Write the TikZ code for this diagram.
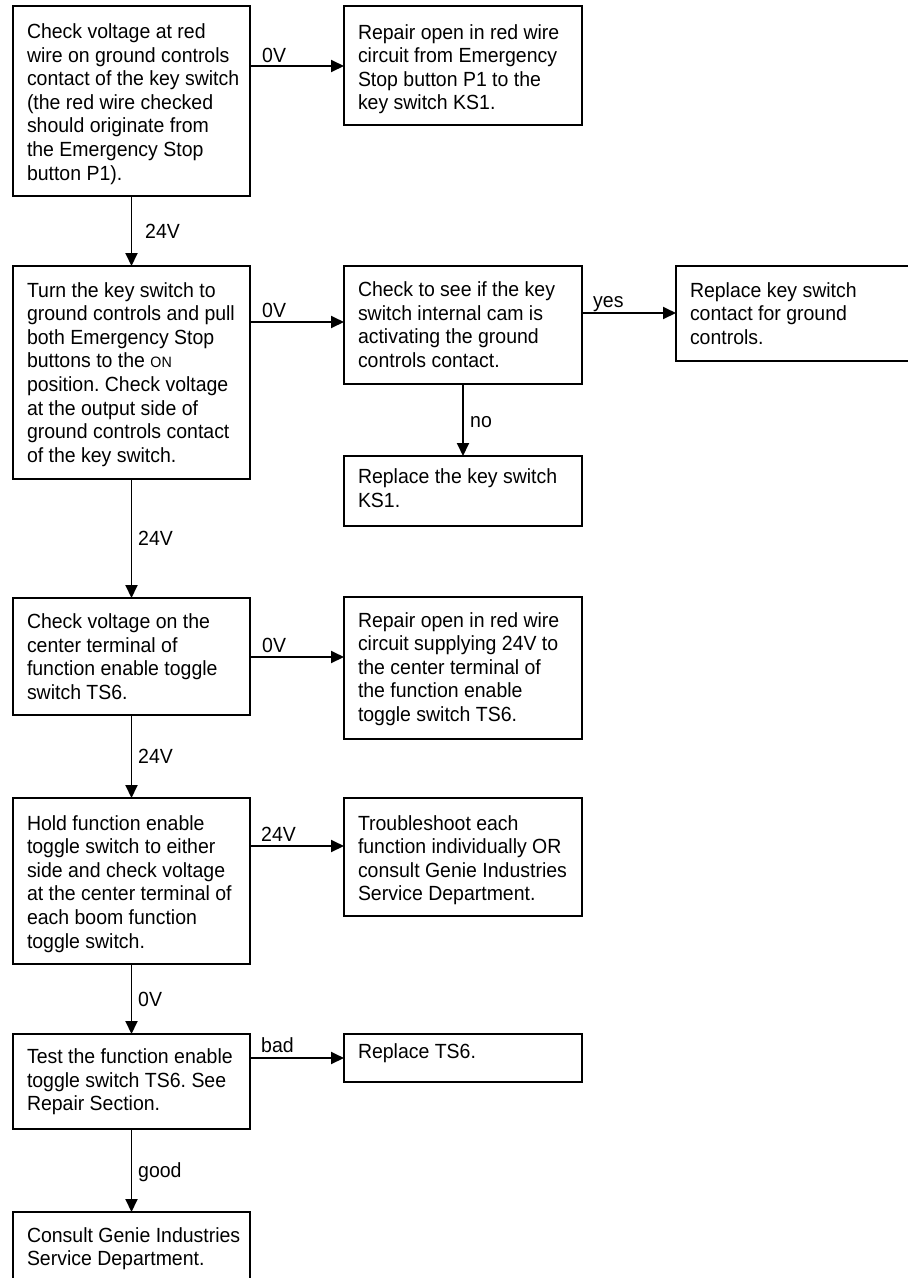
\documentclass[tikz,border=0pt]{standalone}
\usepackage{fontspec}
\setmainfont[FakeStretch=0.95]{Liberation Sans}
\usetikzlibrary{arrows.meta}
\frenchspacing
\tikzset{
  fbx/.style={draw, line width=1.9pt, inner sep=0pt, outer sep=0pt, anchor=north west},
  arr/.style={line width=1.9pt, -{Triangle[length=13pt,width=12pt]}},
  lbl/.style={inner sep=0pt, anchor=base west},
}
\newcommand{\flowbox}[7]{%
  \node[fbx] (#1) at (#2,#3) {\parbox[c][\dimexpr #5pt-#3pt\relax][t]{\dimexpr #4pt-#2pt\relax}{\vspace*{\dimexpr #6pt-16.52pt\relax}\hspace*{14pt}\begin{tabular}[t]{@{}l@{}}#7\end{tabular}}};}
\begin{document}
\begin{tikzpicture}[x=1pt,y=-1pt,font=\fontsize{20.5}{23.6}\selectfont]
\useasboundingbox (0,0) rectangle (908,1278);
\clip (0,0) rectangle (908,1278);
% left column
\flowbox{b1}{13}{6}{250}{196}{32.5}{Check voltage at red\\wire on ground controls\\contact of the key switch\\(the red wire checked\\should originate from\\the Emergency Stop\\button P1).}
\flowbox{b2}{13}{266}{250}{479}{31}{Turn the key switch to\\ground controls and pull\\both Emergency Stop\\buttons to the {\fontsize{15}{16}\selectfont ON}\\position. Check voltage\\at the output side of\\ground controls contact\\of the key switch.}
\flowbox{b3}{13}{598}{250}{715}{30.5}{Check voltage on the\\center terminal of\\function enable toggle\\switch TS6.}
\flowbox{b4}{13}{798}{250}{964}{32}{Hold function enable\\toggle switch to either\\side and check voltage\\at the center terminal of\\each boom function\\toggle switch.}
\flowbox{b5}{13}{1034}{250}{1129}{29.5}{Test the function enable\\toggle switch TS6. See\\Repair Section.}
\flowbox{b6}{13}{1212}{250}{1295}{30}{Consult Genie Industries\\Service Department.}
% middle column
\flowbox{m1}{344}{6}{582}{125}{33}{Repair open in red wire\\circuit from Emergency\\Stop button P1 to the\\key switch KS1.}
\flowbox{m2}{344}{266}{582}{384}{30.5}{Check to see if the key\\switch internal cam is\\activating the ground\\controls contact.}
\flowbox{m3}{344}{456}{582}{526}{27.5}{Replace the key switch\\KS1.}
\flowbox{m4}{344}{597}{582}{739}{30}{Repair open in red wire\\circuit supplying 24V to\\the center terminal of\\the function enable\\toggle switch TS6.}
\flowbox{m5}{344}{798}{582}{916}{32}{Troubleshoot each\\function individually OR\\consult Genie Industries\\Service Department.}
\flowbox{m6}{344}{1034}{582}{1082}{24.5}{Replace TS6.}
% right column
\flowbox{r1}{676}{266}{916}{361}{31}{Replace key switch\\contact for ground\\controls.}
% arrow levels
\coordinate (y1) at (0,66);
\coordinate (y2) at (0,322);
\coordinate (y3) at (0,313);
\coordinate (y4) at (0,657);
\coordinate (y5) at (0,846);
\coordinate (y6) at (0,1058);
% connectors
\draw[arr] (b1.east |- y1) -- (m1.west |- y1);
\draw[arr] (b1.south) -- (b2.north);
\draw[arr] (b2.east |- y2) -- (m2.west |- y2);
\draw[arr] (m2.east |- y3) -- (r1.west |- y3);
\draw[arr] (m2.south) -- (m3.north);
\draw[arr] (b2.south) -- (b3.north);
\draw[arr] (b3.east |- y4) -- (m4.west |- y4);
\draw[arr] (b3.south) -- (b4.north);
\draw[arr] (b4.east |- y5) -- (m5.west |- y5);
\draw[arr] (b4.south) -- (b5.north);
\draw[arr] (b5.east |- y6) -- (m6.west |- y6);
\draw[arr] (b5.south) -- (b6.north);
% labels
\node[lbl] (l1) at (262,62) {0V};
\node[lbl] (l2) at (145,238) {24V};
\node[lbl] (l3) at (262,317) {0V};
\node[lbl] (l4) at (593,307) {yes};
\node[lbl] (l5) at (470,427) {no};
\node[lbl] (l6) at (138,545.5) {24V};
\node[lbl] (l7) at (262,652) {0V};
\node[lbl] (l8) at (138,763.5) {24V};
\node[lbl] (l9) at (261,841) {24V};
\node[lbl] (l10) at (138,1006) {0V};
\node[lbl] (l11) at (261,1052) {bad};
\node[lbl] (l12) at (138,1177) {good};
\end{tikzpicture}
\end{document}
